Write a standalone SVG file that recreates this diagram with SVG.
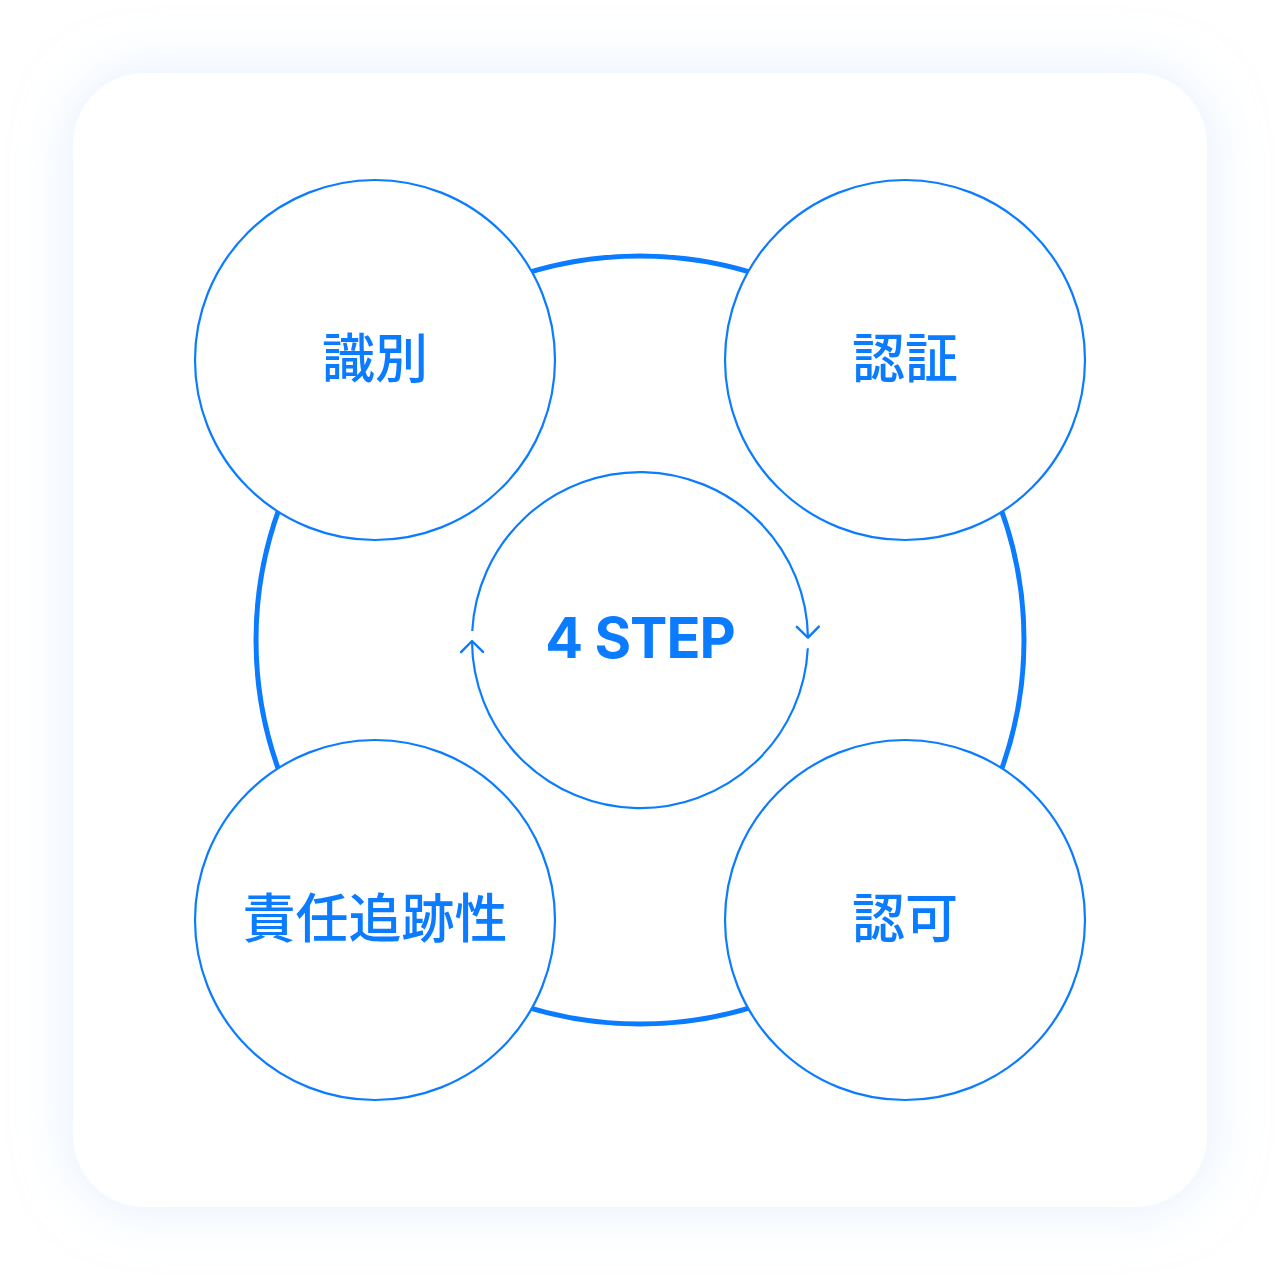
<svg xmlns="http://www.w3.org/2000/svg" width="1280" height="1280" viewBox="0 0 1280 1280">
  <defs>
    <filter id="glow" x="-20%" y="-20%" width="140%" height="140%">
      <feDropShadow dx="0" dy="0" stdDeviation="28" flood-color="#CFE2FF" flood-opacity="0.55"/>
    </filter>
    <marker id="chev" markerUnits="userSpaceOnUse" markerWidth="30" markerHeight="30" viewBox="-15 -15 30 30" refX="0" refY="0" orient="auto">
      <path d="M-11,-11 L0,0 L-11,11" fill="none" stroke="#0B7CFF" stroke-width="2.4" stroke-linecap="round" stroke-linejoin="round"/>
    </marker>
  </defs>
  <style>
    .node { fill: #FFFFFF; stroke: #0B7CFF; stroke-width: 2.2; }
    .lbl { font-family: "Noto Sans CJK JP", "Noto Sans", sans-serif; font-size: 53px; font-weight: 500; fill: #0B7CFF; text-anchor: middle; dominant-baseline: central; }
    .center { font-family: Inter, Roboto, "Liberation Sans", sans-serif; font-size: 56px; font-weight: 700; fill: #0B7CFF; text-anchor: middle; dominant-baseline: central; letter-spacing: -1px; }
  </style>
  <rect width="1280" height="1280" fill="#FFFFFF"/>
  <rect x="73" y="73" width="1134" height="1134" rx="72" ry="72" fill="#FFFFFF" filter="url(#glow)"/>
  <g id="connectors">
    <circle cx="640" cy="640" r="384" fill="none" stroke="#0B7CFF" stroke-width="5"/>
  </g>
  <g id="center">
    <path d="M472.24,631 A168,168 0 0 1 807.98,637.7" fill="none" stroke="#0B7CFF" stroke-width="2.2" marker-end="url(#chev)"/>
    <path d="M807.8,648.3 A168,168 0 0 1 472,641" fill="none" stroke="#0B7CFF" stroke-width="2.2" marker-end="url(#chev)"/>
    <text class="center" x="640" y="638">4 STEP</text>
  </g>
  <g id="node-identify">
    <circle class="node" cx="375" cy="360" r="180"/>
    <text class="lbl" x="375" y="355">識別</text>
  </g>
  <g id="node-authenticate">
    <circle class="node" cx="905" cy="360" r="180"/>
    <text class="lbl" x="905" y="355">認証</text>
  </g>
  <g id="node-accountability">
    <circle class="node" cx="375" cy="920" r="180"/>
    <text class="lbl" x="375" y="915">責任追跡性</text>
  </g>
  <g id="node-authorize">
    <circle class="node" cx="905" cy="920" r="180"/>
    <text class="lbl" x="905" y="915">認可</text>
  </g>
</svg>
